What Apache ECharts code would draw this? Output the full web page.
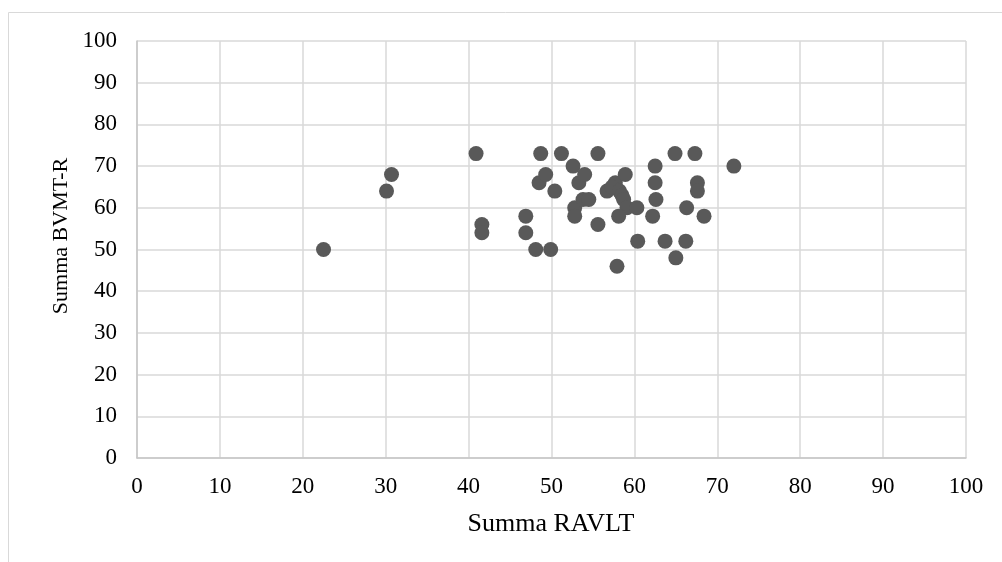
<!DOCTYPE html>
<html><head><meta charset="utf-8">
<script src="https://cdn.jsdelivr.net/npm/echarts@6/dist/echarts.min.js"></script>
<style>html,body{margin:0;padding:0;background:#fff}#c{width:1002px;height:562px}</style>
</head><body><div id="c"></div>
<script>
const xTitle = 'Summa RAVLT';
const yTitle = 'Summa BVMT-R';
const ravlt = [22.5, 30.1, 30.7, 40.9, 41.6, 41.6, 46.9, 46.9, 48.1, 49.9, 48.5, 49.3, 48.7, 50.4, 51.2, 52.6,
  52.8, 52.8, 53.3, 54.0, 53.8, 54.5, 55.6, 55.6, 56.7, 57.7, 57.3, 58.2, 58.5, 58.7, 59.1, 57.9, 58.1, 58.9,
  60.3, 60.4, 62.5, 62.5, 62.6, 62.2, 63.7, 64.9, 65.0, 66.2, 66.3, 67.3, 67.6, 67.6, 68.4, 72.0];
const bvmt = [50, 64, 68, 73, 56, 54, 58, 54, 50, 50, 66, 68, 73, 64, 73, 70,
  60, 58, 66, 68, 62, 62, 73, 56, 64, 66, 65, 64, 63, 62, 60, 46, 58, 68,
  60, 52, 70, 66, 62, 58, 52, 73, 48, 52, 60, 73, 66, 64, 58, 70];
const data = ravlt.map((v, i) => [v, bvmt[i]]);
const font = 'Liberation Serif, Times New Roman, serif';
const chart = echarts.init(document.getElementById('c'));
chart.setOption({
  animation: false,
  graphic: [
    {type: 'rect', shape: {x: 8.5, y: 12.5, width: 1100, height: 600}, style: {fill: 'none', stroke: '#d9d9d9', lineWidth: 1}, z: -1},
    {type: 'text', x: 551, y: 524, style: {text: xTitle, font: '26px ' + font, fill: '#000', align: 'center', verticalAlign: 'middle'}},
    {type: 'text', x: 61, y: 236, rotation: Math.PI / 2, style: {text: yTitle, font: '22px ' + font, fill: '#000', align: 'center', verticalAlign: 'middle'}}
  ],
  grid: {left: 137, right: 36, top: 41, bottom: 104},
  xAxis: {
    type: 'value', min: 0, max: 100, interval: 10,
    axisLine: {show: true, lineStyle: {color: '#c6c6c6', width: 1.5}},
    axisTick: {show: false},
    axisLabel: {fontFamily: font, fontSize: 23, color: '#000', margin: 17},
    splitLine: {show: true, lineStyle: {color: '#d9d9d9', width: 1.5}}
  },
  yAxis: {
    type: 'value', min: 0, max: 100, interval: 10,
    axisLine: {show: true, lineStyle: {color: '#c6c6c6', width: 1.5}},
    axisTick: {show: false},
    axisLabel: {fontFamily: font, fontSize: 23, color: '#000', margin: 20},
    splitLine: {show: true, lineStyle: {color: '#d9d9d9', width: 1.5}}
  },
  series: [{
    type: 'scatter', data: data, symbolSize: 15,
    itemStyle: {color: '#595959', opacity: 1}
  }]
});
</script></body></html>
